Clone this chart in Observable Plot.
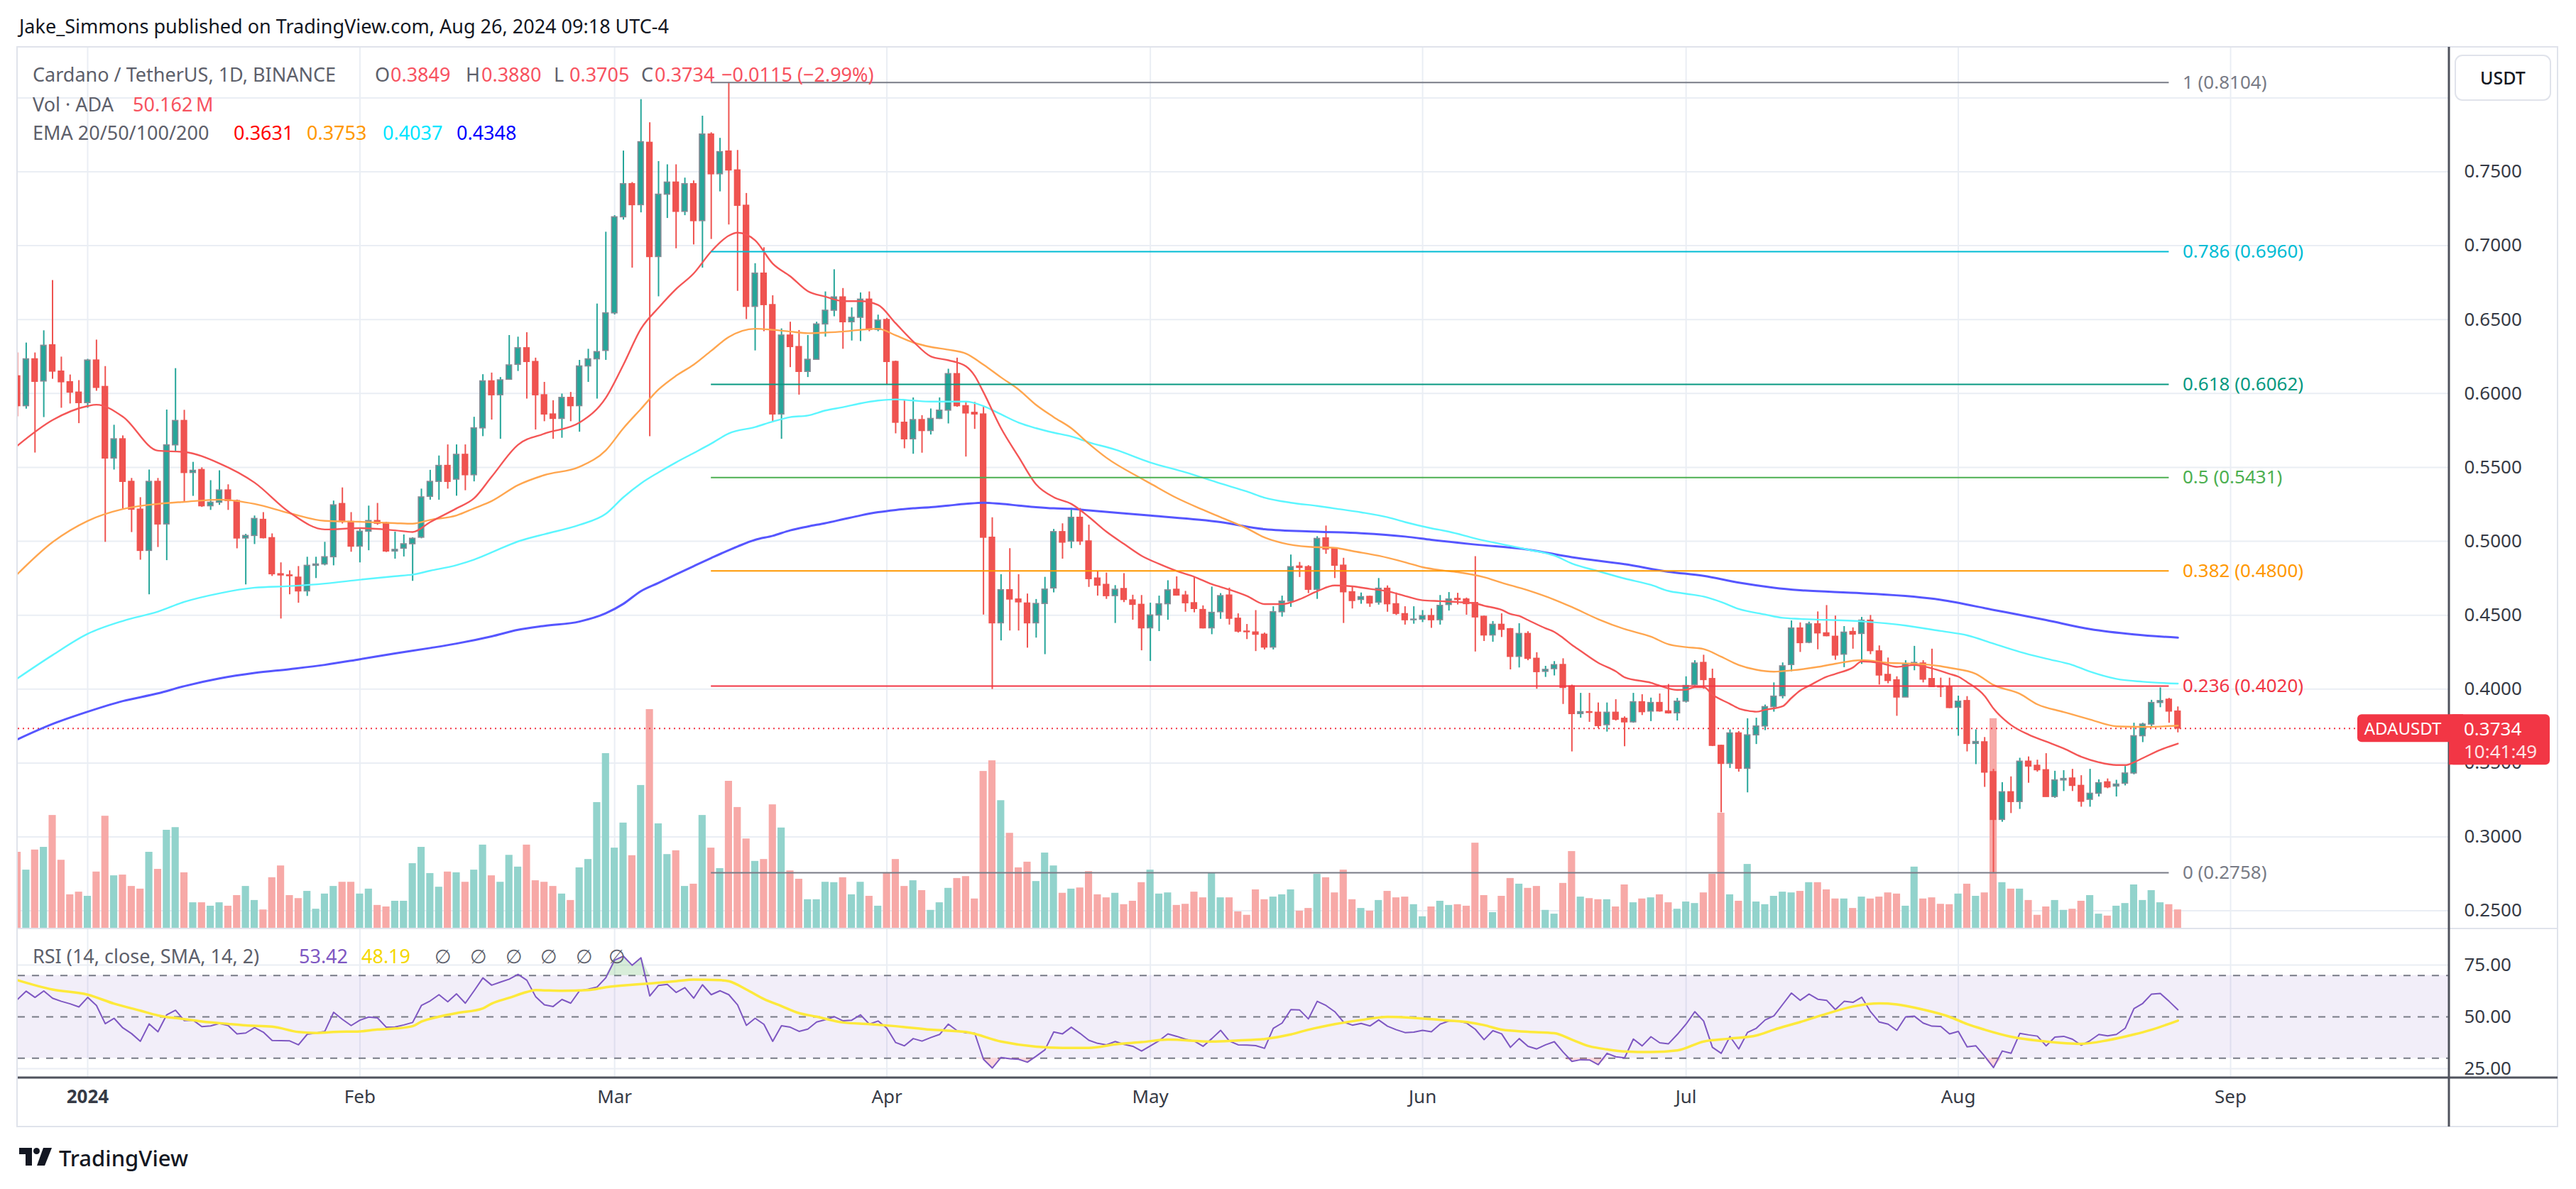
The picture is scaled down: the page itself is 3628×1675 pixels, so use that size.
<!DOCTYPE html>
<html><head><meta charset="utf-8">
<script src="https://cdn.jsdelivr.net/npm/d3@7"></script>
<script src="https://cdn.jsdelivr.net/npm/@observablehq/plot@0.6"></script>
<style>
html,body{margin:0;padding:0;background:#fff;}
#root{position:relative;width:3628px;height:1675px;overflow:hidden;font-family:"Noto Sans",Roboto,sans-serif;}
</style></head><body><div id="root"></div>
<script>
// ---------- DATA (daily candles from 2023-12-24; rows: [open, high, low, close, volume in millions]) ----------
const firstDay = "2023-12-24";
const dec2023 = [[.6117,.6275,.5843,.5915,202],[.5915,.6342,.5895,.6232,155],[.6232,.6275,.5598,.6080,208],[.6082,.6425,.5838,.6324,215],[.6327,.6765,.6097,.6149,299],[.6149,.6247,.5901,.6077,181],[.6077,.6126,.5930,.6007,90],[.6007,.6088,.5797,.5936,97]];
const jan2024 = [[.5936,.6232,.5901,.6224,86],[.6224,.6362,.6016,.6039,150],[.6045,.6183,.4994,.5561,297],[.5561,.5786,.5483,.5691,140],[.5691,.5714,.5215,.5403,142],[.5403,.5426,.5060,.5215,112],[.5215,.5296,.4873,.4936,105],[.4936,.5483,.4639,.5403,202],[.5403,.5426,.4959,.5115,157],[.5115,.5889,.4870,.5650,260],[.5650,.6169,.5604,.5815,267],[.5815,.5887,.5267,.5463,148],[.5463,.5535,.5305,.5478,69],[.5483,.5498,.5230,.5238,69],[.5238,.5411,.5210,.5262,60],[.5262,.5478,.5244,.5345,69],[.5345,.5383,.5210,.5273,60],[.5273,.5280,.4950,.5020,88],[.5020,.5048,.4706,.5037,112],[.5037,.5172,.4979,.5152,75],[.5146,.5195,.5017,.5022,50],[.5022,.5051,.4763,.4778,135],[.4778,.4855,.4475,.4770,166],[.4770,.4801,.4639,.4765,88],[.4755,.4830,.4582,.4662,80],[.4662,.4893,.4628,.4835,99],[.4835,.4893,.4749,.4844,52],[.4844,.4994,.4835,.4893,92],[.4893,.5273,.4835,.5244,112],[.5253,.5362,.5118,.5132,123],[.5132,.5195,.4927,.4965,123]];
const feb2024 = [[.4965,.5089,.4855,.5066,92],[.5066,.5239,.4937,.5138,105],[.5138,.5257,.5109,.5120,62],[.5123,.5130,.4925,.4932,58],[.4932,.5063,.4880,.4943,73],[.4951,.5044,.4895,.4981,73],[.4981,.5025,.4730,.5018,172],[.5025,.5354,.5018,.5298,215],[.5302,.5481,.5279,.5403,146],[.5403,.5578,.5279,.5511,110],[.5511,.5653,.5354,.5403,150],[.5418,.5653,.5306,.5586,148],[.5586,.5653,.5343,.5448,123],[.5448,.5840,.5403,.5765,155],[.5765,.6128,.5709,.6083,221],[.6083,.6139,.5821,.5989,140],[.5989,.6109,.5691,.6090,123],[.6094,.6393,.6094,.6191,194],[.6195,.6382,.6150,.6307,163],[.6307,.6412,.5963,.6214,221],[.6214,.6240,.5754,.5989,127],[.5989,.6076,.5810,.5859,123],[.5859,.5952,.5691,.5829,112],[.5829,.5997,.5698,.5971,92],[.5971,.6008,.5810,.5915,75],[.5915,.6225,.5739,.6184,161],[.6184,.6300,.6076,.6232,183],[.6232,.6606,.5963,.6281,333],[.6289,.7092,.6225,.6543,462]];
const mar2024 = [[.6543,.7204,.6532,.7193,213],[.7193,.7641,.7174,.7417,279],[.7417,.7428,.6849,.7275,193],[.7275,.7989,.7223,.7701,378],[.7697,.7832,.5709,.6924,578],[.6924,.7570,.6655,.7346,277],[.7346,.7548,.7185,.7428,196],[.7428,.7548,.6980,.7230,206],[.7230,.7458,.7204,.7417,112],[.7417,.7439,.7006,.7167,118],[.7167,.7877,.6849,.7753,299],[.7753,.7765,.7043,.7484,213],[.7484,.7727,.7365,.7634,159],[.7638,.8104,.7141,.7510,389],[.7510,.7645,.6692,.7271,320],[.7271,.7354,.6501,.6587,237],[.6587,.6879,.6289,.6812,178],[.6812,.6987,.6419,.6599,183],[.6599,.6662,.5803,.5859,327],[.5859,.6438,.5691,.6393,266],[.6393,.6483,.6176,.6315,153],[.6315,.6427,.5990,.6147,131],[.6147,.6393,.6109,.6229,77],[.6229,.6483,.6229,.6468,77],[.6468,.6688,.6382,.6561,123],[.6561,.6838,.6520,.6651,122],[.6651,.6711,.6300,.6483,135],[.6483,.6580,.6356,.6513,90],[.6513,.6681,.6352,.6636,123],[.6636,.6688,.6419,.6431,86],[.6431,.6531,.6419,.6494,60]];
const apr2024 = [[.6498,.6509,.6057,.6214,148],[.6214,.6220,.5728,.5803,183],[.5803,.5952,.5627,.5691,112],[.5691,.5971,.5590,.5821,127],[.5821,.5851,.5597,.5747,101],[.5747,.5896,.5720,.5829,49],[.5829,.5971,.5825,.5885,69],[.5885,.6165,.5795,.6132,107],[.6132,.6240,.5908,.5915,133],[.5915,.5941,.5571,.5866,138],[.5870,.5941,.5758,.5859,79],[.5859,.5915,.4502,.5025,415],[.5025,.5160,.3998,.4446,443],[.4446,.4775,.4327,.4670,338],[.4670,.4951,.4394,.4607,252],[.4607,.4775,.4394,.4588,161],[.4580,.4644,.4278,.4446,176],[.4446,.4607,.4346,.4577,125],[.4577,.4757,.4234,.4674,200],[.4682,.5081,.4652,.5063,166],[.5063,.5119,.4880,.4992,94],[.4999,.5223,.4951,.5160,105],[.5160,.5223,.4973,.5000,108],[.5000,.5110,.4689,.4745,151],[.4749,.4797,.4630,.4701,90],[.4706,.4786,.4608,.4630,82],[.4630,.4701,.4445,.4673,94],[.4678,.4782,.4586,.4604,64],[.4601,.4636,.4467,.4571,73],[.4571,.4634,.4260,.4412,122]];
const may2024 = [[.4412,.4582,.4188,.4499,155],[.4499,.4630,.4390,.4575,92],[.4575,.4734,.4467,.4669,95],[.4673,.4760,.4630,.4634,62],[.4634,.4662,.4521,.4582,65],[.4582,.4760,.4517,.4543,97],[.4536,.4564,.4408,.4412,82],[.4412,.4691,.4369,.4517,146],[.4521,.4647,.4473,.4630,82],[.4634,.4684,.4434,.4477,82],[.4477,.4510,.4380,.4390,45],[.4390,.4438,.4336,.4386,36],[.4384,.4532,.4255,.4369,103],[.4369,.4380,.4266,.4282,77],[.4282,.4558,.4266,.4521,84],[.4521,.4630,.4488,.4593,90],[.4593,.4908,.4554,.4826,103],[.4830,.4858,.4756,.4821,47],[.4826,.4836,.4647,.4673,54],[.4673,.5032,.4608,.5017,144],[.5021,.5104,.4913,.4945,135],[.4949,.4956,.4749,.4836,95],[.4836,.4886,.4445,.4656,155],[.4656,.4695,.4543,.4597,77],[.4604,.4651,.4575,.4623,54],[.4625,.4630,.4554,.4580,47],[.4586,.4749,.4569,.4680,75],[.4680,.4699,.4521,.4575,99],[.4575,.4651,.4499,.4510,82],[.4508,.4558,.4434,.4467,84],[.4467,.4558,.4440,.4471,64]];
const jun2024 = [[.4471,.4532,.4451,.4495,32],[.4495,.4543,.4412,.4467,58],[.4467,.4634,.4434,.4564,73],[.4570,.4654,.4529,.4607,62],[.4611,.4649,.4570,.4604,64],[.4607,.4617,.4501,.4576,60],[.4583,.4897,.4252,.4486,226],[.4490,.4495,.4323,.4364,88],[.4364,.4458,.4318,.4436,43],[.4436,.4510,.4350,.4402,86],[.4406,.4411,.4131,.4219,133],[.4219,.4443,.4144,.4374,118],[.4374,.4389,.4193,.4206,107],[.4206,.4247,.4000,.4116,112],[.4118,.4155,.4080,.4131,49],[.4136,.4187,.4090,.4163,39],[.4164,.4206,.3897,.4009,120],[.4019,.4028,.3576,.3832,204],[.3832,.3972,.3804,.3845,84],[.3845,.3972,.3776,.3840,80],[.3841,.3907,.3733,.3751,77],[.3757,.3907,.3710,.3841,77],[.3841,.3929,.3785,.3794,58],[.3800,.3813,.3611,.3776,116],[.3776,.3972,.3770,.3912,69],[.3912,.3963,.3822,.3845,79],[.3849,.3940,.3781,.3907,82],[.3907,.3968,.3845,.3850,90],[.3850,.4032,.3832,.3837,69],[.3837,.3938,.3785,.3916,52]];
const jul2024 = [[.3916,.4084,.3907,.4022,71],[.4028,.4193,.4022,.4174,67],[.4178,.4230,.4000,.4062,95],[.4069,.4136,.3612,.3617,144],[.3617,.3621,.3164,.3495,305],[.3495,.3725,.3464,.3701,90],[.3701,.3714,.3439,.3462,73],[.3462,.3800,.3299,.3688,170],[.3688,.3804,.3626,.3748,71],[.3748,.3893,.3720,.3879,64],[.3879,.4043,.3845,.3950,86],[.3953,.4178,.3935,.4155,97],[.4164,.4462,.4118,.4411,95],[.4411,.4449,.4249,.4312,99],[.4314,.4454,.4308,.4439,122],[.4439,.4523,.4267,.4378,122],[.4378,.4566,.4355,.4359,103],[.4355,.4495,.4196,.4228,79],[.4234,.4424,.4146,.4383,79],[.4387,.4415,.4271,.4370,54],[.4374,.4486,.4168,.4464,84],[.4464,.4499,.4234,.4258,79],[.4256,.4293,.4028,.4093,84],[.4097,.4211,.4037,.4056,95],[.4060,.4084,.3817,.3944,92],[.3944,.4193,.3944,.4168,60],[.4168,.4290,.4125,.4178,163],[.4174,.4193,.4043,.4065,79],[.4069,.4271,.4015,.4015,82],[.4019,.4075,.3944,.4013,65],[.4015,.4075,.3869,.3873,64]];
const aug2024 = [[.3875,.3953,.3682,.3916,92],[.3920,.3950,.3576,.3630,118],[.3630,.3725,.3490,.3643,86],[.3641,.3673,.3336,.3436,95],[.3439,.3458,.2758,.3116,554],[.3116,.3368,.3100,.3303,122],[.3303,.3407,.3159,.3237,105],[.3237,.3533,.3187,.3510,105],[.3510,.3542,.3364,.3477,75],[.3482,.3520,.3439,.3452,36],[.3452,.3564,.3271,.3271,58],[.3271,.3445,.3262,.3383,75],[.3383,.3449,.3308,.3393,49],[.3396,.3458,.3308,.3346,52],[.3346,.3415,.3202,.3239,73],[.3252,.3458,.3202,.3293,88],[.3293,.3387,.3271,.3364,39],[.3370,.3393,.3327,.3336,34],[.3342,.3384,.3271,.3355,60],[.3361,.3477,.3346,.3430,67],[.3430,.3770,.3421,.3682,116],[.3682,.3770,.3639,.3761,75],[.3761,.3925,.3738,.3907,101],[.3907,.4009,.3875,.3920,69],[.3929,.3938,.3770,.3849,64],[.3849,.3880,.3705,.3734,50.162]];

// EMA readings [date, value]
const ema20 = [["2023-12-24",.5647],["2023-12-28",.5820],["2024-01-01",.5915],["2024-01-02",.5924],["2024-01-05",.5843],["2024-01-09",.5613],["2024-01-12",.5604],["2024-01-16",.5527],["2024-01-20",.5397],["2024-01-24",.5195],["2024-01-28",.5080],["2024-02-01",.5089],["2024-02-05",.5074],["2024-02-07",.5063],["2024-02-09",.5130],["2024-02-12",.5223],["2024-02-14",.5291],["2024-02-16",.5437],["2024-02-19",.5653],["2024-02-22",.5728],["2024-02-26",.5803],["2024-02-29",.5971],["2024-03-02",.6195],["2024-03-04",.6438],["2024-03-06",.6580],["2024-03-08",.6707],["2024-03-10",.6812],["2024-03-12",.6961],["2024-03-14",.7068],["2024-03-15",.7088],["2024-03-17",.7036],["2024-03-19",.6879],["2024-03-21",.6793],["2024-03-23",.6692],["2024-03-25",.6655],["2024-03-27",.6625],["2024-03-29",.6625],["2024-03-31",.6599],["2024-04-02",.6475],["2024-04-04",.6352],["2024-04-06",.6251],["2024-04-08",.6225],["2024-04-10",.6184],["2024-04-11",.6120],["2024-04-12",.6008],["2024-04-14",.5765],["2024-04-16",.5571],["2024-04-18",.5384],["2024-04-20",.5298],["2024-04-22",.5253],["2024-04-24",.5165],["2024-04-26",.5065],["2024-04-28",.4982],["2024-04-30",.4902],["2024-05-02",.4847],["2024-05-04",.4799],["2024-05-06",.4760],["2024-05-08",.4710],["2024-05-10",.4673],["2024-05-12",.4630],["2024-05-14",.4575],["2024-05-16",.4575],["2024-05-18",.4608],["2024-05-20",.4662],["2024-05-22",.4701],["2024-05-24",.4695],["2024-05-26",.4678],["2024-05-28",.4662],["2024-05-30",.4630],["2024-06-01",.4601],["2024-06-03",.4595],["2024-06-05",.4589],["2024-06-07",.4580],["2024-06-08",.4564],["2024-06-10",.4536],["2024-06-11",.4508],["2024-06-12",.4495],["2024-06-13",.4467],["2024-06-15",.4411],["2024-06-16",.4387],["2024-06-17",.4346],["2024-06-18",.4299],["2024-06-19",.4258],["2024-06-21",.4178],["2024-06-23",.4120],["2024-06-24",.4080],["2024-06-27",.4043],["2024-06-29",.4004],["2024-06-30",.3994],["2024-07-01",.3996],["2024-07-02",.4013],["2024-07-03",.4013],["2024-07-04",.3963],["2024-07-06",.3900],["2024-07-07",.3869],["2024-07-08",.3854],["2024-07-09",.3847],["2024-07-10",.3860],["2024-07-12",.3884],["2024-07-13",.3940],["2024-07-14",.3991],["2024-07-15",.4022],["2024-07-17",.4084],["2024-07-18",.4103],["2024-07-20",.4146],["2024-07-21",.4187],["2024-07-23",.4178],["2024-07-25",.4150],["2024-07-27",.4163],["2024-07-29",.4140],["2024-07-31",.4103],["2024-08-01",.4084],["2024-08-02",.4047],["2024-08-04",.3953],["2024-08-05",.3869],["2024-08-07",.3757],["2024-08-09",.3692],["2024-08-11",.3645],["2024-08-13",.3598],["2024-08-15",.3542],["2024-08-17",.3505],["2024-08-19",.3486],["2024-08-20",.3486],["2024-08-21",.3505],["2024-08-22",.3533],["2024-08-24",.3589],["2024-08-26",.3631]];
const ema50 = [["2023-12-24",.4778],["2023-12-28",.4994],["2024-01-01",.5138],["2024-01-05",.5218],["2024-01-09",.5253],["2024-01-12",.5267],["2024-01-16",.5282],["2024-01-20",.5253],["2024-01-24",.5190],["2024-01-28",.5138],["2024-02-01",.5132],["2024-02-05",.5123],["2024-02-07",.5119],["2024-02-09",.5145],["2024-02-12",.5175],["2024-02-14",.5223],["2024-02-16",.5272],["2024-02-19",.5380],["2024-02-22",.5448],["2024-02-26",.5504],["2024-02-29",.5616],["2024-03-02",.5765],["2024-03-04",.5896],["2024-03-06",.6027],["2024-03-08",.6120],["2024-03-10",.6195],["2024-03-12",.6289],["2024-03-14",.6382],["2024-03-17",.6438],["2024-03-19",.6431],["2024-03-21",.6419],["2024-03-23",.6408],["2024-03-25",.6412],["2024-03-27",.6419],["2024-03-29",.6431],["2024-03-31",.6438],["2024-04-02",.6393],["2024-04-04",.6345],["2024-04-06",.6315],["2024-04-08",.6296],["2024-04-10",.6270],["2024-04-12",.6195],["2024-04-14",.6109],["2024-04-16",.6027],["2024-04-18",.5922],["2024-04-20",.5840],["2024-04-22",.5765],["2024-04-24",.5660],["2024-04-26",.5565],["2024-04-30",.5424],["2024-05-01",.5391],["2024-05-04",.5293],["2024-05-07",.5213],["2024-05-09",.5163],["2024-05-12",.5087],["2024-05-14",.5026],["2024-05-16",.4989],["2024-05-19",.4963],["2024-05-22",.4956],["2024-05-24",.4934],["2024-05-27",.4902],["2024-05-30",.4858],["2024-06-01",.4825],["2024-06-03",.4805],["2024-06-05",.4791],["2024-06-08",.4757],["2024-06-10",.4720],["2024-06-13",.4668],["2024-06-16",.4605],["2024-06-18",.4555],["2024-06-21",.4473],["2024-06-24",.4406],["2024-06-27",.4355],["2024-06-29",.4303],["2024-07-01",.4284],["2024-07-03",.4271],["2024-07-05",.4219],["2024-07-07",.4163],["2024-07-09",.4131],["2024-07-11",.4118],["2024-07-13",.4127],["2024-07-16",.4150],["2024-07-18",.4172],["2024-07-21",.4196],["2024-07-24",.4178],["2024-07-27",.4172],["2024-07-30",.4155],["2024-07-31",.4144],["2024-08-03",.4103],["2024-08-05",.4028],["2024-08-08",.3968],["2024-08-10",.3897],["2024-08-13",.3845],["2024-08-16",.3794],["2024-08-19",.3748],["2024-08-22",.3744],["2024-08-26",.3753]];
const ema100 = [["2023-12-24",.4072],["2023-12-28",.4230],["2024-01-01",.4374],["2024-01-05",.4461],["2024-01-09",.4524],["2024-01-12",.4590],["2024-01-16",.4648],["2024-01-20",.4686],["2024-01-24",.4697],["2024-01-28",.4714],["2024-02-01",.4740],["2024-02-05",.4764],["2024-02-07",.4775],["2024-02-09",.4801],["2024-02-12",.4839],["2024-02-14",.4876],["2024-02-16",.4925],["2024-02-19",.4999],["2024-02-22",.5048],["2024-02-26",.5111],["2024-02-29",.5186],["2024-03-02",.5298],["2024-03-04",.5392],["2024-03-06",.5466],["2024-03-08",.5534],["2024-03-10",.5597],["2024-03-12",.5661],["2024-03-14",.5730],["2024-03-17",.5773],["2024-03-19",.5810],["2024-03-21",.5840],["2024-03-23",.5851],["2024-03-25",.5885],["2024-03-27",.5907],["2024-03-29",.5933],["2024-03-31",.5952],["2024-04-02",.5960],["2024-04-04",.5952],["2024-04-06",.5945],["2024-04-08",.5945],["2024-04-10",.5945],["2024-04-12",.5915],["2024-04-14",.5859],["2024-04-16",.5803],["2024-04-18",.5765],["2024-04-20",.5735],["2024-04-22",.5709],["2024-04-24",.5670],["2024-04-27",.5620],["2024-05-01",.5533],["2024-05-05",.5467],["2024-05-09",.5391],["2024-05-12",.5337],["2024-05-14",.5295],["2024-05-17",.5261],["2024-05-20",.5239],["2024-05-22",.5222],["2024-05-25",.5196],["2024-05-28",.5163],["2024-05-30",.5130],["2024-06-02",.5088],["2024-06-04",.5065],["2024-06-07",.5019],["2024-06-13",.4944],["2024-06-16",.4903],["2024-06-18",.4850],["2024-06-21",.4798],["2024-06-24",.4748],["2024-06-27",.4705],["2024-06-29",.4664],["2024-07-01",.4645],["2024-07-03",.4626],["2024-07-05",.4589],["2024-07-07",.4542],["2024-07-10",.4505],["2024-07-12",.4482],["2024-07-14",.4475],["2024-07-21",.4458],["2024-07-26",.4430],["2024-07-30",.4393],["2024-08-02",.4364],["2024-08-05",.4308],["2024-08-08",.4252],["2024-08-11",.4206],["2024-08-14",.4163],["2024-08-16",.4118],["2024-08-19",.4069],["2024-08-22",.4050],["2024-08-26",.4037]];
const ema200 = [["2023-12-24",.3660],["2023-12-28",.3764],["2024-01-01",.3847],["2024-01-05",.3919],["2024-01-09",.3971],["2024-01-12",.4020],["2024-01-16",.4072],["2024-01-20",.4109],["2024-01-24",.4135],["2024-01-28",.4164],["2024-02-01",.4202],["2024-02-05",.4241],["2024-02-09",.4278],["2024-02-12",.4308],["2024-02-16",.4357],["2024-02-19",.4401],["2024-02-22",.4428],["2024-02-26",.4457],["2024-02-29",.4513],["2024-03-02",.4577],["2024-03-04",.4663],["2024-03-06",.4719],["2024-03-08",.4776],["2024-03-10",.4832],["2024-03-12",.4887],["2024-03-15",.4965],["2024-03-17",.5010],["2024-03-19",.5037],["2024-03-21",.5074],["2024-03-23",.5100],["2024-03-25",.5123],["2024-03-27",.5149],["2024-03-29",.5175],["2024-03-31",.5197],["2024-04-02",.5212],["2024-04-04",.5223],["2024-04-06",.5231],["2024-04-08",.5242],["2024-04-10",.5253],["2024-04-12",.5261],["2024-04-14",.5253],["2024-04-16",.5242],["2024-04-18",.5231],["2024-04-20",.5223],["2024-04-22",.5220],["2024-04-24",.5209],["2024-05-01",.5174],["2024-05-09",.5130],["2024-05-14",.5082],["2024-05-20",.5065],["2024-05-25",.5054],["2024-05-30",.5032],["2024-06-02",.5010],["2024-06-07",.4978],["2024-06-13",.4944],["2024-06-18",.4892],["2024-06-24",.4845],["2024-06-29",.4794],["2024-07-03",.4766],["2024-07-07",.4720],["2024-07-11",.4686],["2024-07-14",.4669],["2024-07-21",.4649],["2024-07-30",.4604],["2024-08-05",.4536],["2024-08-11",.4467],["2024-08-16",.4406],["2024-08-21",.4370],["2024-08-26",.4348]];

// RSI (14) daily readings from 2023-12-24, and its SMA(14) readings
const rsiDec2023 = [58.4,62.4,59.4,62.5,59.0,57.5,56.3,54.8];
const rsiJan2024 = [59.4,55.5,46.7,49.3,44.7,41.9,38.2,46.6,42.8,51.0,53.2,48.2,48.4,45.3,45.6,46.8,45.8,41.8,42.2,44.8,42.6,38.6,38.5,38.4,36.5,41.6,42.2,43.0,52.2,48.8,45.8];
const rsiFeb2024 = [48.4,49.9,49.5,45.0,45.1,46.1,47.3,55.5,57.7,60.7,57.3,61.1,56.6,62.6,68.8,65.3,66.8,68.2,70.5,67.7,59.8,55.8,55.0,58.4,56.6,62.6,63.4,64.4,68.9];
const rsiMar2024 = [77.4,79.3,74.9,78.5,60.1,65.2,65.7,61.8,64.1,59.0,65.5,60.7,62.6,60.7,55.8,45.9,49.3,46.4,38.2,45.7,45.0,43.0,44.1,47.5,48.6,50.1,48.1,48.4,51.0,46.5,48.0];
const rsiApr2024 = [44.5,37.6,36.0,39.5,38.3,40.0,41.5,46.5,43.3,42.3,42.1,29.5,25.3,30.4,29.8,29.5,28.1,31.0,34.1,42.7,41.8,45.0,42.0,38.7,37.2,36.5,38.1,36.7,35.8,33.5];
const rsiMay2024 = [36.0,38.5,41.8,40.6,39.2,38.3,35.8,39.5,43.5,38.3,36.5,36.4,36.1,34.8,44.5,47.0,53.5,53.3,49.0,57.5,55.5,52.5,47.5,46.0,46.8,45.6,48.5,45.5,43.8,42.4,42.6];
const rsiJun2024 = [43.5,42.8,46.5,48.0,48.0,47.0,44.0,39.0,43.3,41.8,35.3,39.5,35.8,34.5,36.5,38.0,33.0,28.5,29.3,29.2,26.9,32.4,30.7,30.2,39.3,36.0,40.4,37.5,37.0,41.5];
const rsiJul2024 = [46.5,52.5,48.0,35.3,32.4,40.5,34.5,42.5,44.5,48.5,50.5,56.0,61.5,58.0,61.0,58.5,58.0,53.5,57.5,57.0,59.5,52.5,47.5,46.5,43.5,50.0,50.3,47.0,45.5,45.4,41.8];
const rsiAug2024 = [43.0,35.5,36.0,31.0,25.5,33.5,32.4,42.0,41.3,40.7,36.0,40.2,40.6,39.2,36.3,38.5,41.5,40.8,41.5,44.5,54.0,56.5,61.0,61.3,57.5,53.42];
const rsiSma = [["2023-12-24",67.7],["2023-12-28",63.2],["2024-01-01",60.7],["2024-01-04",56.4],["2024-01-07",53.0],["2024-01-09",50.7],["2024-01-12",48.9],["2024-01-14",47.8],["2024-01-17",46.6],["2024-01-19",45.9],["2024-01-22",45.3],["2024-01-25",42.7],["2024-01-27",42.2],["2024-01-29",42.7],["2024-02-01",43.0],["2024-02-03",43.9],["2024-02-05",44.4],["2024-02-07",45.5],["2024-02-08",47.7],["2024-02-10",50.1],["2024-02-12",51.8],["2024-02-15",54.1],["2024-02-16",56.4],["2024-02-18",59.2],["2024-02-20",62.0],["2024-02-21",62.9],["2024-02-24",62.6],["2024-02-27",62.9],["2024-02-29",64.3],["2024-03-03",65.5],["2024-03-05",66.1],["2024-03-08",67.2],["2024-03-10",68.0],["2024-03-13",67.7],["2024-03-14",67.2],["2024-03-16",63.2],["2024-03-18",58.6],["2024-03-20",55.2],["2024-03-22",51.8],["2024-03-24",50.1],["2024-03-27",47.3],["2024-03-30",46.5],["2024-04-02",45.5],["2024-04-06",43.8],["2024-04-10",42.7],["2024-04-14",38.1],["2024-04-18",35.6],["2024-04-21",35.0],["2024-04-24",35.0],["2024-04-27",36.7],["2024-04-30",37.8],["2024-05-03",39.0],["2024-05-08",38.1],["2024-05-11",38.6],["2024-05-14",39.3],["2024-05-17",41.5],["2024-05-19",43.8],["2024-05-22",46.5],["2024-05-25",48.5],["2024-05-28",50.0],["2024-05-31",49.5],["2024-06-03",48.5],["2024-06-06",47.5],["2024-06-08",46.0],["2024-06-10",43.8],["2024-06-13",42.8],["2024-06-16",42.1],["2024-06-18",39.0],["2024-06-20",35.8],["2024-06-22",34.3],["2024-06-24",33.3],["2024-06-27",33.0],["2024-06-30",33.8],["2024-07-03",38.1],["2024-07-06",39.5],["2024-07-09",41.0],["2024-07-11",43.8],["2024-07-14",47.5],["2024-07-17",51.5],["2024-07-20",55.0],["2024-07-23",56.5],["2024-07-25",56.0],["2024-07-28",53.5],["2024-07-31",50.0],["2024-08-02",46.5],["2024-08-04",43.8],["2024-08-07",40.4],["2024-08-11",38.1],["2024-08-15",37.0],["2024-08-18",38.7],["2024-08-21",41.5],["2024-08-23",43.8],["2024-08-26",48.19]];

// Fibonacci retracement
const fibLevels = [1, 0.786, 0.618, 0.5, 0.382, 0.236, 0];
const fibPrices = [0.8104, 0.6960, 0.6062, 0.5431, 0.4800, 0.4020, 0.2758];
const fibColors = ["#787b86", "#00bcd4", "#089981", "#4caf50", "#ff9800", "#f23645", "#787b86"];
const fibSpan = ["2024-03-12", "2024-08-25"];

// Axes
const priceTicks = [0.25, 0.30, 0.35, 0.40, 0.45, 0.50, 0.55, 0.60, 0.65, 0.70, 0.75];
const priceGrid = [0.25, 0.30, 0.35, 0.40, 0.45, 0.50, 0.55, 0.60, 0.65, 0.70, 0.75, 0.80];
const rsiTicks = [75, 50, 25];
const monthTicks = ["2024-01-01","2024-02-01","2024-03-01","2024-04-01","2024-05-01","2024-06-01","2024-07-01","2024-08-01","2024-09-01"];
const monthLabels = ["2024","Feb","Mar","Apr","May","Jun","Jul","Aug","Sep"];

// ---------- BUILD ----------
const DAY = 864e5;
const W = 3628, H = 1675, LEFT = 25, RIGHT = 3449, TOP = 67, PANE_B = 1308, RSI_B = 1518;
const FONT = "'Noto Sans', Roboto, sans-serif";
const start = new Date(firstDay).getTime();
const candles = [dec2023, jan2024, feb2024, mar2024, apr2024, may2024, jun2024, jul2024, aug2024].flat()
  .map((r, i) => ({date: new Date(start + i * DAY), open: r[0], high: r[1], low: r[2], close: r[3], volume: r[4]}));
const rsiRows = [rsiDec2023, rsiJan2024, rsiFeb2024, rsiMar2024, rsiApr2024, rsiMay2024, rsiJun2024, rsiJul2024, rsiAug2024].flat()
  .map((v, i) => ({date: new Date(start + i * DAY), rsi: v}));
const toRows = arr => arr.map(([d, v]) => ({date: new Date(d), v}));
const fibRows = fibLevels.map((l, i) => ({level: l, price: fibPrices[i], color: fibColors[i]}));
const fibStart = new Date(fibSpan[0]), fibEnd = new Date(fibSpan[1]);
const months = monthTicks.map(d => new Date(d));
const jan1 = new Date("2024-01-01").getTime();
const xDomain = [new Date(jan1 - 7.923 * DAY), new Date(jan1 + 268.9 * DAY)];
const yDomain = [0.2378, 0.8338];
const UP = "#26a69a", DOWN = "#ef5350", GRID = "#eaeef4", AXIS = "#363a45";
const isUp = d => d.close >= d.open;
const last = candles[candles.length - 1], prev = candles[candles.length - 2];

const base = {width: W, height: H, marginLeft: LEFT, marginRight: W - RIGHT,
  style: `background:transparent;overflow:visible;font-family:${FONT};position:absolute;left:0;top:0;max-width:none;`,
  color: {type: "identity"}};
const xOpt = {type: "utc", domain: xDomain, axis: null};
const root = document.getElementById("root");

// grid layer
root.appendChild(Plot.plot({...base, marginTop: TOP, marginBottom: H - PANE_B, x: xOpt, y: {domain: yDomain, axis: null},
  marks: [Plot.ruleY(priceGrid, {stroke: GRID, strokeWidth: 2}), Plot.ruleX(months, {stroke: GRID, strokeWidth: 2})]}));

// volume layer
root.appendChild(Plot.plot({...base, marginTop: TOP, marginBottom: H - PANE_B, x: xOpt, y: {domain: [0, 2321], axis: null},
  marks: [Plot.rect(candles, {x1: d => new Date(+d.date - 0.41 * DAY), x2: d => new Date(+d.date + 0.41 * DAY), y1: d => 0, y2: "volume",
    fill: d => isUp(d) ? "#92d3cc" : "#f7a9a7", clip: true})]}));

// price layer
const lineOpt = (stroke, w) => ({x: "date", y: "v", stroke, strokeWidth: w, curve: "monotone-x", clip: true});
const pricePlot = Plot.plot({...base, marginTop: TOP, marginBottom: H - PANE_B, x: xOpt, y: {domain: yDomain, axis: null},
  marks: [
    Plot.ruleY([last.close], {stroke: "#f23645", strokeWidth: 2, strokeDasharray: "2,5"}),
    Plot.ruleX(candles, {x: "date", y1: "low", y2: "high", stroke: d => isUp(d) ? UP : DOWN, strokeWidth: 2, clip: true}),
    Plot.rect(candles, {x1: d => new Date(+d.date - 0.31 * DAY), x2: d => new Date(+d.date + 0.31 * DAY),
      y1: "open", y2: "close", fill: d => isUp(d) ? UP : DOWN, stroke: d => isUp(d) ? "#858a94" : DOWN, strokeWidth: 1.6, clip: true}),
    Plot.line(toRows(ema200), lineOpt("#5656ff", 3)),
    Plot.line(toRows(ema100), lineOpt("#5cf6ff", 2.4)),
    Plot.line(toRows(ema50), lineOpt("#ffa64f", 2.4)),
    Plot.line(toRows(ema20), lineOpt("#f45656", 2.4)),
    Plot.ruleY(fibRows, {y: "price", x1: d => fibStart, x2: d => fibEnd, stroke: "color", strokeWidth: 2}),
    Plot.text(fibRows, {x: d => fibEnd, y: "price", text: d => `${d.level} (${d.price.toFixed(4)})`, fill: "color",
      textAnchor: "start", dx: 19, fontSize: 26}),
    Plot.text(priceTicks, {x: d => xDomain[1], y: d => d, text: d => d.toFixed(4), dx: 21, textAnchor: "start", fill: AXIS, fontSize: 26})
  ]});
root.appendChild(pricePlot);

// RSI pane
const smaRows = toRows(rsiSma);
root.appendChild(Plot.plot({...base, marginTop: PANE_B, marginBottom: H - RSI_B, x: xOpt, y: {domain: [20.52, 92.5], axis: null},
  marks: [
    Plot.ruleX(months, {stroke: GRID, strokeWidth: 2}),
    Plot.ruleY([75, 25], {stroke: GRID, strokeWidth: 2}),
    Plot.rect([0], {x1: d => xDomain[0], x2: d => xDomain[1], y1: d => 30, y2: d => 70, fill: "rgba(126,87,194,0.1)"}),
    Plot.ruleY([70, 50, 30], {stroke: "#787b86", strokeWidth: 2, strokeDasharray: "10,10"}),
    Plot.areaY(rsiRows, {x: "date", y1: d => 70, y2: d => Math.max(70, d.rsi), fill: "rgba(76,175,80,0.22)", clip: true}),
    Plot.areaY(rsiRows, {x: "date", y1: d => Math.min(30, d.rsi), y2: d => 30, fill: "rgba(242,54,69,0.2)", clip: true}),
    Plot.line(rsiRows, {x: "date", y: "rsi", stroke: "#7e57c2", strokeWidth: 2, clip: true}),
    Plot.line(smaRows, {x: "date", y: "v", stroke: "#fde93b", strokeWidth: 3.5, curve: "monotone-x", clip: true}),
    Plot.text(rsiTicks, {x: d => xDomain[1], y: d => d, text: d => d.toFixed(2), dx: 21, textAnchor: "start", fill: AXIS, fontSize: 26}),
    Plot.text(months.slice(0, 1), {x: d => d, frameAnchor: "bottom", dy: 35, text: d => monthLabels[0], fill: AXIS, fontSize: 26, fontWeight: "bold"}),
    Plot.text(months.slice(1), {x: d => d, frameAnchor: "bottom", dy: 35, text: (d, i) => monthLabels[i + 1], fill: AXIS, fontSize: 26})
  ]}));

// ---------- overlay: frame, legends, tags ----------
const ov = d3.create("svg").attr("width", W).attr("height", H)
  .style("position", "absolute").style("left", 0).style("top", 0).style("font-family", FONT);
ov.append("rect").attr("x", 24).attr("y", 66).attr("width", 3602 - 24).attr("height", 1587 - 66)
  .attr("fill", "none").attr("stroke", "#e0e3eb").attr("stroke-width", 2);
ov.append("line").attr("x1", 25).attr("x2", 3602).attr("y1", PANE_B).attr("y2", PANE_B).attr("stroke", "#e0e3eb").attr("stroke-width", 2);
ov.append("line").attr("x1", 25).attr("x2", 3602).attr("y1", RSI_B).attr("y2", RSI_B).attr("stroke", "#4f525c").attr("stroke-width", 3);
ov.append("line").attr("x1", RIGHT).attr("x2", RIGHT).attr("y1", 66).attr("y2", 1587).attr("stroke", "#4f525c").attr("stroke-width", 3);

function txt(x, y, s, fill, size = 27, weight = 400, anchor = "start") {
  return ov.append("text").attr("x", x).attr("y", y).attr("fill", fill).attr("font-size", size)
    .attr("font-weight", weight).attr("text-anchor", anchor).text(s);
}
const RED = "#f7525f", GRAY = "#5d606b";
txt(27, 47, "Jake_Simmons published on TradingView.com, Aug 26, 2024 09:18 UTC-4", "#131722", 27);
txt(46, 115, "Cardano / TetherUS, 1D, BINANCE", GRAY);
const ohlc = [["O", last.open, 528], ["H", last.high, 656], ["L", last.low, 780], ["C", last.close, 903]];
ohlc.forEach(([k, v, x]) => { txt(x, 115, k, GRAY); txt(x + (k === "C" ? 19 : 22), 115, v.toFixed(4), RED); });
const chg = last.close - prev.close;
txt(1016, 115, `\u2212${Math.abs(chg).toFixed(4)} (\u2212${Math.abs(chg / prev.close * 100).toFixed(2)}%)`, RED);
txt(46, 157, "Vol \u00b7 ADA", GRAY);
txt(187, 157, `${last.volume.toFixed(3)}\u2009M`, RED);
txt(46, 197, "EMA 20/50/100/200", GRAY);
[[ema20, "#ff0000", 329], [ema50, "#ff9800", 432], [ema100, "#00e5ff", 539], [ema200, "#0000ff", 643]]
  .forEach(([arr, c, x]) => txt(x, 197, arr[arr.length - 1][1].toFixed(4), c));
txt(46, 1357, "RSI (14, close, SMA, 14, 2)", GRAY);
txt(421, 1357, rsiRows[rsiRows.length - 1].rsi.toFixed(2), "#7e57c2");
txt(509, 1357, smaRows[smaRows.length - 1].v.toFixed(2), "#f5d800");
[612, 662, 712, 761, 811, 857].forEach(x => txt(x, 1357, "\u2205", GRAY));

// USDT button
ov.append("rect").attr("x", 3458).attr("y", 78).attr("width", 134).attr("height", 63).attr("rx", 10)
  .attr("fill", "#fff").attr("stroke", "#e0e3eb").attr("stroke-width", 2);
txt(3525, 119, "USDT", "#131722", 25, 500, "middle");

// price tags
const yC = pricePlot.scale("y").apply(last.close);
ov.append("rect").attr("x", 3320).attr("y", yC - 19.5).attr("width", 135).attr("height", 39).attr("rx", 6).attr("fill", "#f23645");
ov.append("rect").attr("x", RIGHT).attr("y", yC - 19.5).attr("width", 142).attr("height", 71).attr("rx", 6).attr("fill", "#f23645");
ov.append("rect").attr("x", RIGHT).attr("y", yC - 19.5).attr("width", 20).attr("height", 71).attr("fill", "#f23645");
txt(3384, yC + 9, "ADAUSDT", "#fff", 24, 400, "middle");
txt(3470, yC + 10, last.close.toFixed(4), "#fff", 26);
txt(3470, yC + 42, "10:41:49", "#fde2e4", 26);

// TradingView logo
const lg = ov.append("g").attr("fill", "#131722");
lg.append("path").attr("d", "M27,1617 H45 V1642 H36 V1626 H27 Z");
lg.append("circle").attr("cx", 51.5).attr("cy", 1621.5).attr("r", 4.5);
lg.append("path").attr("d", "M61,1617 H73 L63,1642 H52 Z");
txt(83, 1643, "TradingView", "#131722", 31, 500);
root.appendChild(ov.node());
</script></body></html>
